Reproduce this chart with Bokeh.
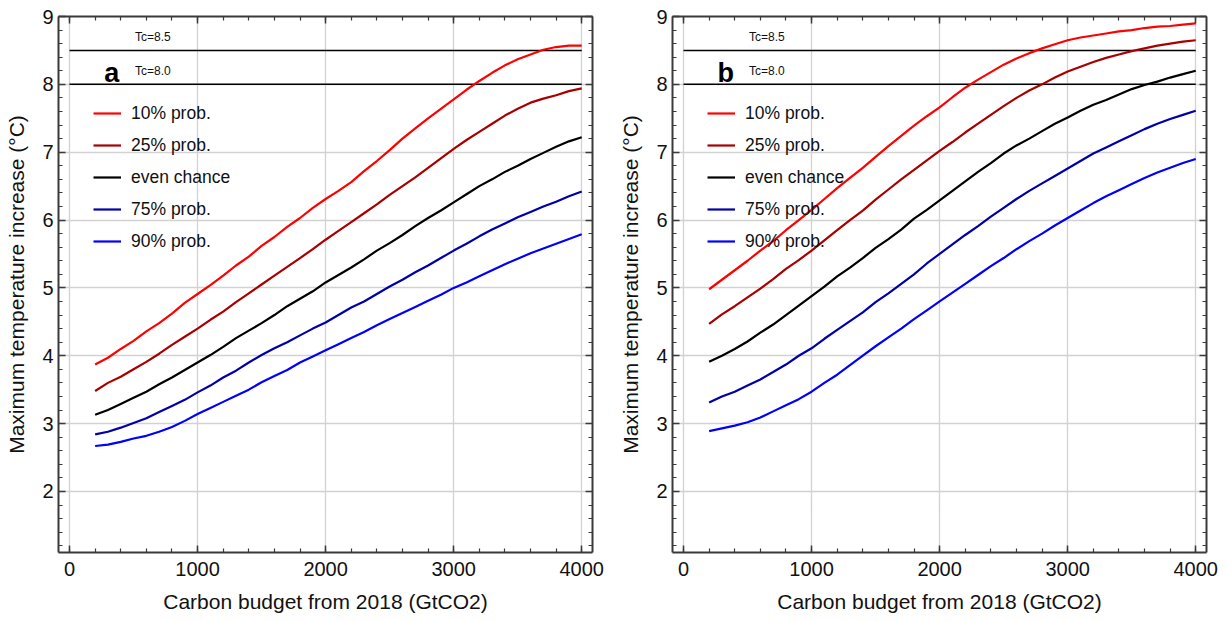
from bokeh.plotting import figure
from bokeh.layouts import row
from bokeh.models import (Range1d, LinearAxis, SingleIntervalTicker, Legend, LegendItem, Label,
                          CustomJSTickFormatter)
from bokeh.embed import file_html
from bokeh.resources import INLINE

budget = list(range(200, 4100, 100))

series_labels = ["10% prob.", "25% prob.", "even chance", "75% prob.", "90% prob."]
series_colors = ["#ff0000", "#a80000", "#000000", "#0000a8", "#0000ff"]

a_p10 = [3.87, 3.97, 4.10, 4.22, 4.36, 4.48, 4.62, 4.78, 4.91, 5.04, 5.18, 5.33, 5.46, 5.62, 5.75, 5.90, 6.03, 6.18, 6.31,
         6.43, 6.56, 6.72, 6.87, 7.03, 7.20, 7.35, 7.50, 7.64, 7.78, 7.92, 8.05, 8.17, 8.28, 8.37, 8.44, 8.51, 8.55, 8.57, 8.57]
a_p25 = [3.48, 3.60, 3.69, 3.80, 3.91, 4.03, 4.16, 4.28, 4.40, 4.53, 4.65, 4.79, 4.92, 5.05, 5.18, 5.31, 5.44, 5.57, 5.71,
         5.84, 5.97, 6.10, 6.23, 6.37, 6.50, 6.63, 6.77, 6.91, 7.05, 7.18, 7.30, 7.42, 7.54, 7.64, 7.73, 7.79, 7.84, 7.90, 7.94]
a_p50 = [3.13, 3.20, 3.29, 3.38, 3.47, 3.58, 3.68, 3.79, 3.90, 4.01, 4.13, 4.26, 4.37, 4.48, 4.60, 4.73, 4.84, 4.95, 5.08,
         5.19, 5.30, 5.42, 5.55, 5.66, 5.78, 5.91, 6.03, 6.14, 6.26, 6.38, 6.50, 6.60, 6.71, 6.80, 6.90, 6.99, 7.08, 7.16, 7.22]
a_p75 = [2.84, 2.88, 2.94, 3.01, 3.08, 3.17, 3.26, 3.35, 3.46, 3.56, 3.68, 3.78, 3.90, 4.01, 4.11, 4.20, 4.30, 4.40, 4.49,
         4.60, 4.71, 4.80, 4.91, 5.02, 5.12, 5.23, 5.33, 5.44, 5.55, 5.65, 5.76, 5.86, 5.95, 6.04, 6.12, 6.20, 6.27, 6.35, 6.42]
a_p90 = [2.67, 2.69, 2.73, 2.78, 2.82, 2.88, 2.95, 3.04, 3.14, 3.23, 3.32, 3.41, 3.50, 3.61, 3.70, 3.79, 3.90, 3.99, 4.08,
         4.17, 4.26, 4.35, 4.45, 4.54, 4.63, 4.72, 4.81, 4.90, 5.00, 5.08, 5.17, 5.26, 5.35, 5.43, 5.51, 5.58, 5.65, 5.72, 5.79]

b_p10 = [4.98, 5.12, 5.26, 5.40, 5.55, 5.69, 5.85, 6.00, 6.15, 6.31, 6.47, 6.62, 6.77, 6.93, 7.09, 7.24, 7.39, 7.53, 7.66,
         7.81, 7.95, 8.07, 8.18, 8.29, 8.38, 8.46, 8.53, 8.59, 8.65, 8.69, 8.72, 8.75, 8.78, 8.80, 8.83, 8.85, 8.86, 8.88, 8.90]
b_p25 = [4.47, 4.61, 4.73, 4.86, 4.99, 5.13, 5.28, 5.41, 5.55, 5.70, 5.85, 6.00, 6.14, 6.30, 6.45, 6.60, 6.74, 6.88, 7.02,
         7.15, 7.29, 7.42, 7.55, 7.68, 7.80, 7.91, 8.00, 8.10, 8.19, 8.26, 8.33, 8.39, 8.44, 8.49, 8.53, 8.57, 8.60, 8.63, 8.65]
b_p50 = [3.91, 4.00, 4.10, 4.21, 4.34, 4.46, 4.60, 4.74, 4.88, 5.02, 5.17, 5.30, 5.44, 5.59, 5.72, 5.86, 6.02, 6.15, 6.29,
         6.43, 6.57, 6.71, 6.84, 6.98, 7.10, 7.20, 7.31, 7.42, 7.51, 7.61, 7.70, 7.77, 7.85, 7.93, 7.99, 8.04, 8.10, 8.15, 8.20]
b_p75 = [3.31, 3.40, 3.47, 3.56, 3.65, 3.76, 3.87, 4.00, 4.11, 4.25, 4.38, 4.51, 4.64, 4.79, 4.92, 5.06, 5.20, 5.36, 5.50,
         5.64, 5.78, 5.91, 6.05, 6.18, 6.31, 6.43, 6.54, 6.65, 6.76, 6.87, 6.98, 7.07, 7.16, 7.25, 7.34, 7.42, 7.49, 7.55, 7.61]
b_p90 = [2.89, 2.93, 2.97, 3.02, 3.09, 3.18, 3.27, 3.36, 3.47, 3.60, 3.72, 3.86, 4.00, 4.14, 4.27, 4.40, 4.54, 4.67, 4.80,
         4.93, 5.06, 5.19, 5.32, 5.44, 5.57, 5.69, 5.80, 5.92, 6.03, 6.14, 6.25, 6.35, 6.44, 6.53, 6.62, 6.70, 6.77, 6.84, 6.90]

tc_levels = [8.5, 8.0]
tc_labels = ["Tc=8.5", "Tc=8.0"]
tc_span = [0, 4000]

FONT = "Liberation Sans"
FRAME = "#3a3a3a"
GRID = "#d2d2d2"


def make_panel(series, letter, width, left):
    p = figure(width=width, height=621, output_backend="svg", toolbar_location=None,
               x_range=Range1d(-86, 4084), y_range=Range1d(1.1, 9.0),
               x_axis_location=None, y_axis_location=None,
               min_border_left=left, min_border_right=width - left - 534,
               min_border_top=16, min_border_bottom=69)
    p.outline_line_color = None
    p.background_fill_color = "white"
    p.border_fill_color = "white"

    xt = SingleIntervalTicker(interval=1000, num_minor_ticks=5)
    yt = SingleIntervalTicker(interval=1, num_minor_ticks=5)

    def style(ax, labels):
        ax.axis_line_color = FRAME
        ax.axis_line_width = 2
        ax.major_tick_line_color = FRAME
        ax.minor_tick_line_color = FRAME
        ax.major_tick_line_width = 1.5
        ax.minor_tick_line_width = 1.2
        ax.major_tick_in = 7
        ax.major_tick_out = 0
        ax.minor_tick_in = 4
        ax.minor_tick_out = 0
        if labels:
            ax.major_label_text_font = FONT
            ax.major_label_text_font_size = "20px"
            ax.major_label_text_color = "#111111"
            ax.axis_label_text_font = FONT
            ax.axis_label_text_font_size = "21px"
            ax.axis_label_text_font_style = "normal"
            ax.axis_label_text_color = "#111111"
        else:
            ax.formatter = CustomJSTickFormatter(code="return ''")
            ax.major_label_standoff = 0

    xb = LinearAxis(ticker=xt, axis_label="Carbon budget from 2018 (GtCO2)")
    style(xb, True)
    xb.major_label_standoff = 9
    xb.axis_label_standoff = 11
    p.add_layout(xb, "below")
    yl = LinearAxis(ticker=yt, axis_label="Maximum temperature increase (°C)")
    style(yl, True)
    yl.major_label_standoff = 5
    yl.axis_label_standoff = 11
    p.add_layout(yl, "left")
    xa = LinearAxis(ticker=xt)
    style(xa, False)
    p.add_layout(xa, "above")
    yr = LinearAxis(ticker=yt)
    style(yr, False)
    p.add_layout(yr, "right")

    p.xgrid.ticker = xt
    p.ygrid.ticker = yt
    p.xgrid.grid_line_color = GRID
    p.ygrid.grid_line_color = GRID
    p.xgrid.grid_line_width = 1.3
    p.ygrid.grid_line_width = 1.3

    for lvl, lab in zip(tc_levels, tc_labels):
        p.line(tc_span, [lvl, lvl], line_color="black", line_width=1.5)
        p.add_layout(Label(x=512, y=lvl + 0.2, text=lab, text_font=FONT, text_font_size="12px",
                           text_align="left", text_baseline="alphabetic", text_color="#111111"))

    p.add_layout(Label(x=330, y=8.17, text=letter, text_font=FONT, text_font_size="27px",
                       text_font_style="bold", text_align="center", text_baseline="alphabetic",
                       text_color="black"))

    items = []
    for vals, lab, col in zip(series, series_labels, series_colors):
        r = p.line(budget, vals, line_color=col, line_width=2.2)
        items.append(LegendItem(label=lab, renderers=[r]))

    leg = Legend(items=items, location=(35, 297), margin=0, padding=0, spacing=4,
                 glyph_width=28, glyph_height=28, label_height=28, label_standoff=10,
                 label_text_font=FONT, label_text_font_size="17.5px", label_text_color="#111111",
                 border_line_color=None, background_fill_alpha=0)
    p.add_layout(leg, "center")
    return p


p1 = make_panel([a_p10, a_p25, a_p50, a_p75, a_p90], "a", 613, 58)
p2 = make_panel([b_p10, b_p25, b_p50, b_p75, b_p90], "b", 614, 59)

layout = row(p1, p2, spacing=0)
open("out.html", "w").write(file_html(layout, INLINE))
